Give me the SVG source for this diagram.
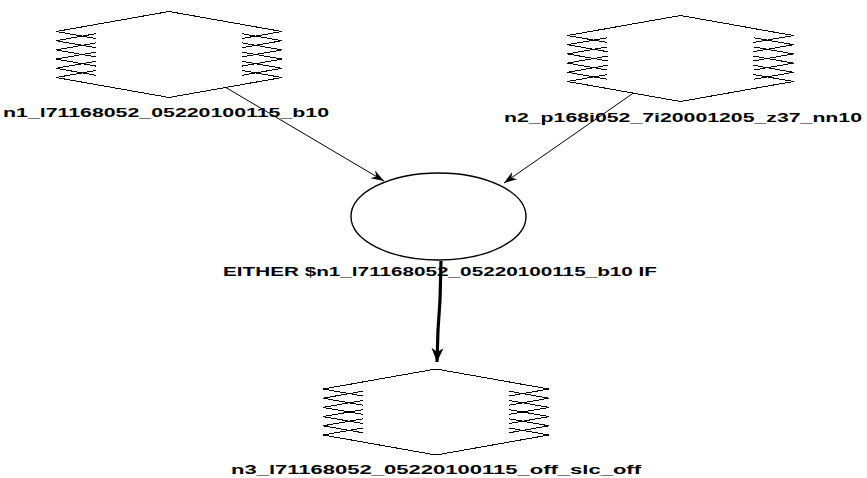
<svg xmlns="http://www.w3.org/2000/svg" width="867" height="478" viewBox="0 0 867 478">
  <style>
    .shape { fill: none; stroke: #000; stroke-width: 1; shape-rendering: crispEdges; }
    .oval { fill: none; stroke: #000; stroke-width: 1.4; }
    .label { font-family: "Liberation Sans", Arial, sans-serif; font-size: 12px; font-weight: bold; fill: #000; text-anchor: middle; }
    .edge { fill: none; stroke: #000; stroke-width: 1; }
    .edge-bold { fill: none; stroke: #000; stroke-width: 3.2; stroke-linejoin: round; }
  </style>
  <defs>
    <!-- hexagon with serrated sides, centred on (0,0) -->
    <path id="serrated" d="M-113,-23 L0,-43 L113,-23 M-113,23 L0,43 L113,23
      M-73,-30 L-113,-23 L-73,-16
      M-73,-20.8 L-113,-13.8 L-73,-6.8
      M-73,-11.6 L-113,-4.6 L-73,2.4
      M-73,-2.4 L-113,4.6 L-73,11.6
      M-73,6.8 L-113,13.8 L-73,20.8
      M-73,16 L-113,23 L-73,30
      M73,-30 L113,-23 L73,-16
      M73,-20.8 L113,-13.8 L73,-6.8
      M73,-11.6 L113,-4.6 L73,2.4
      M73,-2.4 L113,4.6 L73,11.6
      M73,6.8 L113,13.8 L73,20.8
      M73,16 L113,23 L73,30"/>
    <marker id="arrow" viewBox="-14 -5 15 10" refX="0" refY="0" markerWidth="15" markerHeight="10" markerUnits="userSpaceOnUse" orient="auto">
      <path d="M0,0 L-13,-4.5 L-9,0 L-13,4.5 Z" fill="#000"/>
    </marker>
    <marker id="arrow-bold" viewBox="-15 -7 16 14" refX="0" refY="0" markerWidth="16" markerHeight="14" markerUnits="userSpaceOnUse" orient="auto">
      <path d="M0,0 L-14,-6 L-10,0 L-14,6 Z" fill="#000"/>
    </marker>
  </defs>

  <g id="connectors">
    <line class="edge" x1="225" y1="87" x2="384" y2="181" marker-end="url(#arrow)"/>
    <line class="edge" x1="632" y1="94" x2="504" y2="183" marker-end="url(#arrow)"/>
    <polyline class="edge-bold" points="441,261 440,300 438,330 437,362" marker-end="url(#arrow-bold)"/>
  </g>

  <g id="n1">
    <use href="#serrated" class="shape" transform="translate(169,54.5)"/>
    <text class="label" x="166" y="117" textLength="326" lengthAdjust="spacingAndGlyphs">n1_l71168052_05220100115_b10</text>
  </g>

  <g id="n2">
    <use href="#serrated" class="shape" transform="translate(680.5,58.5)"/>
    <text class="label" x="683" y="122" textLength="358" lengthAdjust="spacingAndGlyphs">n2_p168i052_7i20001205_z37_nn10</text>
  </g>

  <g id="either">
    <ellipse class="oval" cx="438.5" cy="216.5" rx="87.5" ry="43.5"/>
    <text class="label" x="440" y="276" textLength="434" lengthAdjust="spacingAndGlyphs">EITHER $n1_l71168052_05220100115_b10 IF</text>
  </g>

  <g id="n3">
    <use href="#serrated" class="shape" transform="translate(436,412)"/>
    <text class="label" x="436" y="474" textLength="410" lengthAdjust="spacingAndGlyphs">n3_l71168052_05220100115_off_slc_off</text>
  </g>
</svg>
